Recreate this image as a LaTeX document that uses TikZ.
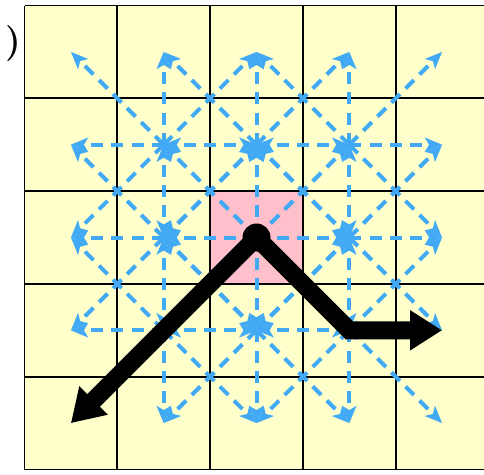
\documentclass[tikz,border=0pt]{standalone}
\usetikzlibrary{arrows.meta}
\definecolor{cellyellow}{RGB}{255,255,204}
\definecolor{cellpink}{RGB}{255,192,203}
\definecolor{moveblue}{RGB}{66,170,245}
\begin{document}
\begin{tikzpicture}[x=1pt,y=-1pt,
  gridline/.style={line width=1.8pt},
  move/.style={moveblue, line width=4pt, -{Stealth[length=17pt,width=14pt,inset=4pt]}},
  movestraight/.style={move, dash pattern=on 12pt off 8.2pt},
  movediag/.style={move, dash pattern=on 12pt off 7.87pt},
  bigpath/.style={line width=18pt, -{Triangle[length=32pt,width=38pt]}, line join=miter}]
\useasboundingbox (0,0) rectangle (484,474);
\clip (0,0) rectangle (484,474);
\def\ox{24.5}\def\oy{5.5}\def\cs{92.8}
\fill[cellyellow] (\ox,\oy) rectangle ++(5*\cs,5*\cs);
\fill[cellpink] (\ox+2*\cs,\oy+2*\cs) rectangle ++(\cs,\cs);
\foreach \i in {0,...,5} {
  \draw[gridline] (\ox+\i*\cs,\oy) -- ++(0,5*\cs);
  \draw[gridline] (\ox,\oy+\i*\cs) -- ++(5*\cs,0);
}
\foreach \i in {0,...,4} \foreach \j in {0,...,4}
  \coordinate (c\i\j) at (\ox+\i*\cs+\cs/2, \oy+\j*\cs+\cs/2);
\foreach \a/\b in {1/1,2/1,3/1,1/2,2/2,3/2,1/3,2/3,3/3}
  \foreach \dx/\dy in {-1/-1,0/-1,1/-1,-1/0,1/0,-1/1,0/1,1/1} {
    \pgfmathtruncatemacro\p{\a+\dx}
    \pgfmathtruncatemacro\q{\b+\dy}
    \pgfmathtruncatemacro\iscenter{(\p==2)&&(\q==2)}
    \pgfmathtruncatemacro\isdiag{abs(\dx*\dy)}
    \ifnum\iscenter=0
      \ifnum\isdiag=1
        \draw[movediag] (c\a\b) -- (c\p\q);
      \else
        \draw[movestraight] (c\a\b) -- (c\p\q);
      \fi
    \fi
  }
\draw[bigpath] (c22) -- (c04);
\draw[bigpath] (c22) -- (c33) -- (c43);
\node[circle, fill=black, minimum size=28pt, inner sep=0pt] (dot) at (c22) {};
\node[anchor=east, font=\fontsize{36}{36}\selectfont\bfseries, inner sep=0pt] (paren) at (21,44) {)};
\end{tikzpicture}
\end{document}
